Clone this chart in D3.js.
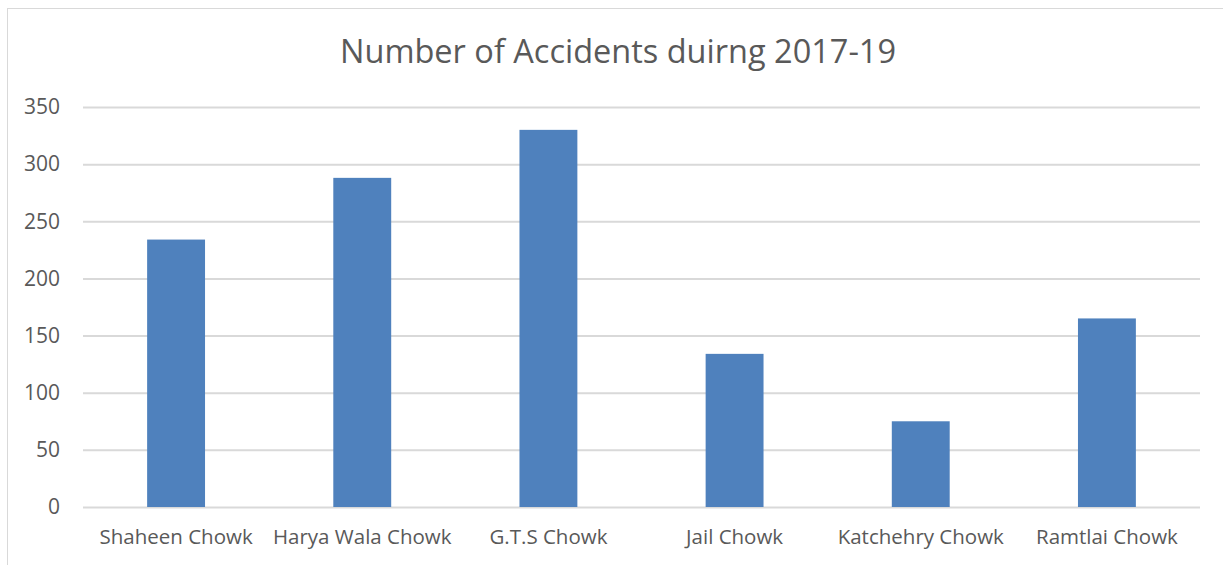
<!DOCTYPE html>
<html><head><meta charset="utf-8">
<script src="https://cdn.jsdelivr.net/npm/d3@7"></script>
<style>body{margin:0;background:#fff;} svg{display:block;font-family:"Open Sans","Lato",sans-serif;}</style>
</head><body>
<svg id="c" width="1223" height="565"></svg>
<script>
const categories = ["Shaheen Chowk","Harya Wala Chowk","G.T.S Chowk","Jail Chowk","Katchehry Chowk","Ramtlai Chowk"];
const accidents = [234, 288, 330, 134, 75, 165];
const yTicks = [0,50,100,150,200,250,300,350];
const title = "Number of Accidents duirng 2017-19";

const svg = d3.select("#c");
const m = {left:83, right:1200, top:107, bottom:507};
svg.append("rect").attr("x",7.5).attr("y",8.5).attr("width",1230).attr("height",570)
  .attr("fill","#fff").attr("stroke","#d9d9d9").attr("stroke-width",1);

const x = d3.scaleBand().domain(categories).range([m.left,m.right]).paddingInner(0.689).paddingOuter(0.3445);
const y = d3.scaleLinear().domain([0,350]).range([m.bottom,m.top]);

const gy = svg.append("g").attr("transform",`translate(${m.left},0)`)
  .call(d3.axisLeft(y).tickValues(yTicks).tickSize(-(m.right-m.left)).tickPadding(23));
gy.select(".domain").remove();
gy.selectAll(".tick line").attr("stroke","#d9d9d9").attr("stroke-width",2);
gy.selectAll(".tick text").attr("fill","#595959").style("font-size","21px").style("font-family","'Open Sans',sans-serif");

svg.append("g").selectAll("rect").data(categories).join("rect")
  .attr("x",d=>x(d)).attr("width",x.bandwidth())
  .attr("y",(d,i)=>y(accidents[i])).attr("height",(d,i)=>y(0)-y(accidents[i]))
  .attr("fill","#4f81bd");

const gx = svg.append("g").attr("transform",`translate(0,${m.bottom})`)
  .call(d3.axisBottom(x).tickSize(0).tickPadding(22));
gx.select(".domain").remove();
gx.selectAll(".tick text").attr("fill","#595959").style("font-size","20.5px").style("font-family","'Open Sans',sans-serif");

svg.append("text").attr("x",618).attr("y",63).attr("text-anchor","middle")
  .attr("fill","#595959").style("font-size","32.5px").text(title);
</script>
</body></html>
